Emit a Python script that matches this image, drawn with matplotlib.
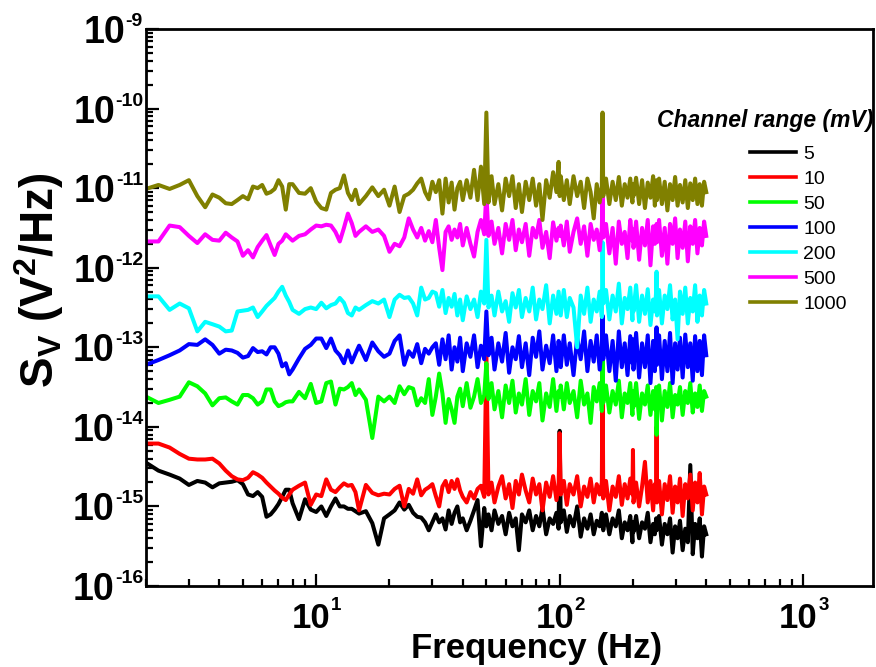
import numpy as np
import matplotlib
matplotlib.use('Agg')
import matplotlib.pyplot as plt
from matplotlib.ticker import LogLocator, NullFormatter
from matplotlib.lines import Line2D
from matplotlib.transforms import ScaledTranslation, blended_transform_factory

plt.rcParams['font.family'] = ['Liberation Sans', 'DejaVu Sans']
plt.rcParams['mathtext.fontset'] = 'custom'
plt.rcParams['mathtext.rm'] = 'Liberation Sans'
plt.rcParams['mathtext.bf'] = 'Liberation Sans:bold'
plt.rcParams['mathtext.it'] = 'Liberation Sans:italic'

# frequency grid (Hz)
freq = [
    2.0, 2.25, 2.5, 2.75, 3.0, 3.25, 3.5, 3.75, 4.0,
    4.25, 4.5, 4.75, 5.0, 5.25, 5.5, 5.75, 6.0, 6.25,
    6.5, 6.75, 7.0, 7.25, 7.5, 7.75, 8.0, 8.5, 9.0,
    9.5, 10, 10.5, 11, 11.5, 12, 12.5, 13, 13.5,
    14, 14.5, 15, 16, 17, 18, 19, 20, 21,
    22, 23, 24, 25, 26, 27, 28, 29, 30,
    31, 32, 33, 34, 35, 36, 37, 38, 39, 40, 41.5, 43, 44.5, 46, 47.5, 49,
    50, 51,
    52.5, 54, 56, 58, 60, 62, 64, 66, 68, 70,
    72.5, 75, 77.5, 80, 82.5, 85, 88, 91, 94, 97, 99,
    100, 101,
    104, 107, 110, 114, 118, 122, 126, 130, 134, 138, 142, 146, 149,
    150, 151,
    155, 160, 165, 170, 175, 180, 185, 190, 195, 199,
    200, 201,
    206, 212, 218, 224, 230, 236, 242, 246, 249,
    250, 251,
    256, 263, 270, 277, 284, 291, 298, 305, 312, 320, 328, 336, 344, 352, 360, 368, 376, 384, 392, 400,
]

# log10 of S_V (V^2/Hz), one list per channel range
logS_5 = [
    -14.45, -14.55, -14.60, -14.65, -14.73, -14.68, -14.70, -14.76, -14.71,
    -14.70, -14.69, -14.67, -14.72, -14.85, -14.87, -14.82, -14.88, -15.13,
    -15.10, -15.04, -14.97, -14.88, -14.79, -14.79, -14.96, -15.16, -14.91,
    -15.04, -15.07, -15.00, -15.12, -15.00, -14.90, -15.00, -15.00, -15.03,
    -15.03, -15.06, -15.09, -15.06, -15.21, -15.48, -15.15, -15.10, -15.05,
    -14.95, -15.04, -14.98, -15.08, -15.13, -15.14, -15.20, -15.30, -15.20,
    -15.10, -15.20, -15.15, -15.29, -15.05, -15.22, -15.08, -15.00, -15.20, -15.15, -15.30, -15.18, -15.05, -14.92, -15.50, -15.02,
    -15.25, -15.10,
    -15.30, -15.05, -15.22, -15.12, -15.35, -15.08, -15.25, -15.15, -15.55, -15.10,
    -15.20, -15.05, -15.30, -15.12, -15.25, -15.02, -15.35, -15.15, -15.22, -15.08, -15.28,
    -14.05, -15.20,
    -15.05, -15.32, -15.12, -15.25, -15.00, -15.38, -15.15, -15.28, -15.10, -15.35, -15.18, -15.25, -15.08,
    -15.20, -15.30,
    -15.10, -15.35, -15.15, -15.25, -15.05, -15.40, -15.20, -15.30, -15.12, -15.45,
    -15.20, -15.32,
    -15.12, -15.40, -15.20, -15.28, -15.08, -15.45, -15.22, -15.35, -15.15,
    -15.30, -15.20,
    -15.12, -15.48, -15.22, -15.35, -15.15, -15.58, -15.25, -15.40, -15.18, -15.55, -15.28, -15.45, -14.48, -15.60, -15.22, -15.40, -15.15, -15.63, -15.25, -15.35,
]

logS_10 = [
    -14.21, -14.21, -14.26, -14.34, -14.40, -14.41, -14.41, -14.40, -14.46,
    -14.55, -14.62, -14.66, -14.67, -14.64, -14.57, -14.60, -14.64, -14.70,
    -14.75, -14.80, -14.84, -14.89, -14.92, -14.85, -14.79, -14.74, -14.70,
    -14.98, -14.85, -14.87, -14.66, -14.79, -14.82, -14.76, -14.71, -14.74,
    -14.73, -14.82, -15.05, -14.73, -14.83, -14.86, -14.84, -14.85, -14.78,
    -14.74, -15.00, -14.78, -14.84, -14.66, -14.86, -14.79, -14.76, -14.72,
    -14.87, -15.00, -14.75, -14.68, -14.82, -14.68, -14.78, -14.66, -14.80, -14.88, -14.95, -14.82, -14.90, -14.78, -14.74, -14.88,
    -13.08, -14.85,
    -14.70, -14.95, -14.75, -14.62, -14.90, -14.72, -15.02, -14.68, -14.85, -14.60,
    -14.80, -14.95, -14.65, -14.85, -14.72, -15.05, -14.70, -14.88, -14.62, -14.92, -14.75,
    -14.08, -14.85,
    -14.68, -14.98, -14.72, -14.85, -14.62, -15.00, -14.75, -14.88, -14.65, -14.95, -14.72, -14.85, -14.70,
    -13.12, -14.90,
    -14.68, -15.05, -14.75, -14.88, -14.62, -14.98, -14.72, -14.90, -14.65, -14.85,
    -14.29, -14.95,
    -14.70, -15.00, -14.75, -14.44, -14.95, -14.68, -15.05, -14.72, -14.90,
    -14.00, -14.95,
    -14.68, -15.10, -14.72, -14.92, -14.62, -15.08, -14.75, -14.95, -14.65, -15.12, -14.72, -14.90, -14.60, -15.05, -14.70, -14.95, -14.58, -15.10, -14.75, -14.85,
]

logS_50 = [
    -13.62, -13.70, -13.66, -13.62, -13.44, -13.49, -13.58, -13.73, -13.64,
    -13.63, -13.68, -13.72, -13.60, -13.60, -13.64, -13.72, -13.68, -13.53,
    -13.53, -13.68, -13.74, -13.72, -13.69, -13.68, -13.68, -13.56, -13.64,
    -13.46, -13.70, -13.68, -13.45, -13.43, -13.72, -13.52, -13.53, -13.50,
    -13.45, -13.60, -13.53, -13.66, -14.14, -13.62, -13.68, -13.62, -13.70,
    -13.49, -13.59, -13.50, -13.52, -13.73, -13.64, -13.70, -13.40, -13.85,
    -13.62, -13.33, -13.58, -13.95, -13.65, -13.78, -13.95, -13.62, -13.52, -13.74, -13.45, -13.76, -13.62, -13.40, -13.70, -13.60,
    -13.20, -13.65,
    -13.45, -13.78, -13.55, -13.88, -13.48, -13.70, -13.42, -13.82, -13.58, -13.72,
    -13.40, -13.85, -13.55, -13.68, -13.45, -13.92, -13.58, -13.75, -13.40, -13.80, -13.55,
    -13.62, -13.48,
    -13.78, -13.45, -13.70, -13.55, -13.88, -13.42, -13.72, -13.58, -13.95, -13.50, -13.68, -13.45, -13.80,
    -13.15, -13.70,
    -13.48, -13.82, -13.55, -13.72, -13.42, -13.88, -13.58, -13.70, -13.45, -13.85,
    -13.55, -13.75,
    -13.45, -13.90, -13.58, -13.72, -13.48, -13.85, -13.55, -13.78, -13.50,
    -14.10, -13.65,
    -13.48, -13.92, -13.55, -13.75, -13.45, -13.88, -13.60, -13.72, -13.50, -13.85, -13.55, -13.70, -13.45, -13.82, -13.58, -13.75, -13.48, -13.80, -13.55, -13.62,
]

logS_100 = [
    -13.22, -13.16, -13.10, -13.04, -12.96, -12.97, -12.90, -12.97, -13.08,
    -13.03, -13.04, -13.07, -13.13, -13.11, -13.01, -13.06, -13.05, -13.09,
    -13.00, -13.00, -13.08, -13.24, -13.20, -13.34, -13.28, -13.14, -13.02,
    -12.97, -12.89, -12.89, -13.01, -12.89, -13.04, -13.10, -13.20, -13.04,
    -13.19, -13.08, -12.98, -13.16, -12.94, -13.05, -13.12, -13.08, -12.92,
    -12.85, -13.22, -13.05, -13.12, -12.96, -13.20, -13.02, -13.08, -13.00,
    -12.95, -13.22, -12.90, -13.15, -12.85, -13.28, -13.00, -13.18, -12.88, -13.30, -12.95, -13.12, -12.85, -13.25, -12.98, -13.15,
    -12.55, -13.10,
    -12.88, -13.28, -12.95, -13.18, -12.82, -13.32, -13.00, -13.15, -12.86, -13.25,
    -12.95, -13.35, -12.88, -13.12, -12.80, -13.28, -12.98, -13.20, -12.85, -13.30, -12.92,
    -13.05, -13.25,
    -12.85, -13.22, -12.95, -13.35, -12.88, -13.15, -12.80, -13.30, -12.92, -13.18, -12.85, -13.28, -13.00,
    -12.60, -13.15,
    -12.85, -13.30, -12.92, -13.42, -12.80, -13.25, -12.95, -13.35, -12.86, -13.20,
    -12.90, -13.28,
    -12.82, -13.38, -12.95, -13.25, -12.85, -13.45, -12.92, -13.30, -12.88,
    -12.75, -13.22,
    -12.85, -13.40, -12.92, -13.30, -12.82, -13.45, -12.95, -13.28, -12.88, -13.38, -12.84, -13.25, -12.95, -13.42, -12.86, -13.30, -12.92, -13.35, -12.85, -13.10,
]

logS_200 = [
    -12.36, -12.36, -12.53, -12.45, -12.51, -12.80, -12.68, -12.71, -12.74,
    -12.80, -12.79, -12.55, -12.54, -12.53, -12.50, -12.62, -12.55, -12.48,
    -12.43, -12.38, -12.30, -12.24, -12.35, -12.43, -12.53, -12.58, -12.52,
    -12.50, -12.52, -12.44, -12.51, -12.47, -12.45, -12.38, -12.44, -12.57,
    -12.60, -12.50, -12.53, -12.47, -12.42, -12.45, -12.40, -12.62, -12.40,
    -12.34, -12.38, -12.37, -12.45, -12.60, -12.25, -12.40, -12.38, -12.30,
    -12.32, -12.49, -12.28, -12.57, -12.38, -12.49, -12.33, -12.60, -12.40, -12.66, -12.36, -12.52, -12.40, -12.62, -12.30, -12.45,
    -11.65, -12.50,
    -12.35, -12.60, -12.30, -12.55, -12.42, -12.68, -12.32, -12.50, -12.28, -12.62,
    -12.38, -12.55, -12.25, -12.65, -12.40, -12.52, -12.22, -12.70, -12.35, -12.58, -12.30,
    -12.45, -12.60,
    -12.28, -12.62, -12.38, -12.50, -13.00, -12.35, -12.58, -12.25, -12.68, -12.40, -12.55, -12.30, -12.62,
    -11.68, -12.45,
    -12.28, -12.65, -12.35, -12.55, -12.20, -12.70, -12.38, -12.52, -12.25, -12.66,
    -12.40, -12.55,
    -12.22, -12.68, -12.35, -12.58, -12.27, -12.72, -12.40, -12.55, -12.30,
    -12.05, -12.60,
    -12.28, -12.70, -12.35, -12.52, -12.22, -12.65, -12.40, -12.90, -12.30, -12.58, -12.25, -12.70, -12.38, -12.55, -12.22, -12.68, -12.35, -12.60, -12.28, -12.45,
]

logS_500 = [
    -11.67, -11.67, -11.47, -11.49, -11.60, -11.69, -11.58, -11.65, -11.66,
    -11.56, -11.62, -11.67, -11.85, -11.78, -11.87, -11.74, -11.66, -11.59,
    -11.72, -11.84, -11.70, -11.66, -11.58, -11.62, -11.66, -11.60, -11.58,
    -11.52, -11.47, -11.48, -11.46, -11.47, -11.55, -11.67, -11.50, -11.32,
    -11.44, -11.60, -11.55, -11.48, -11.55, -11.52, -11.60, -11.80, -11.70,
    -11.73, -11.62, -11.38, -11.52, -11.62, -11.50, -11.66, -11.54, -11.68,
    -11.40, -11.75, -12.03, -11.55, -11.48, -11.65, -11.52, -11.62, -11.45, -11.72, -11.50, -11.70, -11.86, -11.55, -11.40, -11.58,
    -11.05, -11.60,
    -11.42, -11.70, -11.50, -11.82, -11.45, -11.65, -11.40, -11.78, -11.52, -11.68,
    -11.45, -11.85, -11.50, -11.62, -11.40, -11.75, -11.55, -11.88, -11.43, -11.66, -11.50,
    -11.60, -11.47,
    -11.72, -11.42, -11.80, -11.55, -11.38, -11.70, -11.48, -11.85, -11.45, -11.65, -11.52, -11.78, -11.50,
    -11.10, -11.62,
    -11.45, -11.82, -11.50, -11.95, -11.42, -11.70, -11.55, -11.88, -11.40, -11.66,
    -11.52, -11.75,
    -11.42, -11.90, -11.50, -11.72, -11.40, -11.97, -11.48, -11.70, -11.55,
    -11.45, -11.68,
    -11.40, -11.85, -11.50, -11.95, -11.45, -11.70, -11.38, -11.88, -11.52, -11.75, -11.42, -11.92, -11.48, -11.70, -11.40, -11.82, -11.50, -11.72, -11.42, -11.60,
]

logS_1000 = [
    -11.01, -10.96, -11.01, -10.96, -10.90, -11.10, -11.24, -11.08, -11.12,
    -11.19, -11.20, -11.15, -11.10, -11.14, -10.98, -11.00, -10.96, -11.07,
    -11.05, -11.01, -10.90, -10.98, -11.27, -10.95, -10.95, -11.06, -11.07,
    -11.00, -11.17, -11.25, -11.27, -11.06, -11.02, -11.00, -10.84, -11.06,
    -11.15, -11.02, -11.20, -11.10, -10.99, -11.10, -11.02, -11.22, -10.98,
    -11.30, -11.10, -11.07, -11.02, -10.94, -10.88, -11.05, -11.14, -10.92,
    -11.05, -10.90, -11.32, -10.88, -11.18, -10.93, -11.27, -11.00, -10.92, -11.15, -10.90, -11.12, -10.77, -11.15, -10.73, -11.20,
    -10.05, -11.18,
    -10.85, -11.20, -10.95, -11.28, -10.88, -11.10, -10.85, -11.25, -10.95, -11.30,
    -10.92, -11.15, -10.88, -11.22, -10.95, -11.40, -10.90, -11.12, -10.80, -11.05, -10.67,
    -11.10, -10.85,
    -11.15, -10.90, -11.20, -10.85, -11.10, -10.92, -11.25, -10.88, -11.05, -11.38, -10.95, -11.18, -10.98,
    -10.05, -11.10,
    -10.88, -11.20, -10.92, -11.15, -10.86, -11.22, -10.95, -11.12, -10.88, -11.18,
    -10.95, -11.10,
    -10.87, -11.20, -10.90, -11.25, -10.93, -11.12, -10.85, -11.22, -10.98,
    -10.90, -11.15,
    -10.88, -11.20, -10.92, -11.28, -10.95, -11.15, -10.86, -11.22, -10.96, -11.18, -10.90, -11.25, -10.94, -11.15, -10.88, -11.20, -10.95, -11.22, -10.92, -11.05,
]

range_labels = ['5', '10', '50', '100', '200', '500', '1000']
series = [logS_5, logS_10, logS_50, logS_100, logS_200, logS_500, logS_1000]
colors = ['#000000', '#ff0000', '#00ff00', '#0000ff', '#00ffff', '#ff00ff', '#808000']

ytick_exp = [-16, -15, -14, -13, -12, -11, -10, -9]
xtick_exp = [1, 2, 3]

fig = plt.figure(figsize=(8.76, 6.67), dpi=100)
ax = fig.add_axes([146/876, 1 - 586/667, 727/876, 557/667])
px = 1.0 / fig.dpi

f = np.array(freq)
for vals, col in zip(series, colors):
    ax.plot(f, 10.0 ** np.array(vals), color=col, lw=2.9)

ax.set_xscale('log')
ax.set_yscale('log')
ax.set_xlim(2, 1936)
ax.set_ylim(1e-16, 1e-9)

ax.set_yticks([10.0 ** e for e in ytick_exp])
ax.set_xticks([10.0 ** e for e in xtick_exp])
ax.yaxis.set_minor_locator(LogLocator(base=10, subs=np.arange(2, 10), numticks=20))
ax.xaxis.set_minor_locator(LogLocator(base=10, subs=np.arange(2, 10), numticks=20))
ax.yaxis.set_minor_formatter(NullFormatter())
ax.xaxis.set_minor_formatter(NullFormatter())
ax.tick_params(which='both', direction='in', top=False, right=False, width=1.6,
               labelleft=False, labelbottom=False)
ax.tick_params(which='major', length=9)
ax.tick_params(which='minor', length=5)
for sp in ax.spines.values():
    sp.set_linewidth(2.0)

# tick labels drawn as "10" plus a small raised exponent
ytrans = blended_transform_factory(ax.transAxes, ax.transData)
for e in ytick_exp:
    sup = ax.text(0, 10.0 ** e, '%d' % e, fontsize=14, fontweight='bold',
                  ha='right', va='baseline',
                  transform=ytrans + ScaledTranslation(-3 * px, 3 * px, fig.dpi_scale_trans))
    ax.annotate('10', xy=(0, 0), xycoords=sup, xytext=(0, -13 * 0.72),
                textcoords='offset points', ha='right', va='baseline',
                fontsize=27, fontweight='bold')

xtrans = blended_transform_factory(ax.transData, ax.transAxes)
for e in xtick_exp:
    base = ax.text(10.0 ** e, 0, '10', fontsize=25, fontweight='bold',
                   ha='center', va='baseline',
                   transform=xtrans + ScaledTranslation(-5 * px, -42 * px, fig.dpi_scale_trans))
    ax.annotate('%d' % e, xy=(1, 1), xycoords=base, xytext=(0.5, 5 * 0.72),
                textcoords='offset points', ha='left', va='top',
                fontsize=13.5, fontweight='bold')

ax.set_xlabel('Frequency (Hz)', fontsize=25, fontweight='bold')
ax.xaxis.set_label_coords((537 - 146) / 727, -(632 - 586) / 557)
ax.set_ylabel(r'$\mathbf{S_V\ (V^2/Hz)}$', fontsize=33)
ax.yaxis.set_label_coords(-(146 - 66) / 727, (586 - 280) / 557)

fig.text(657/876, 1 - 121/667, 'Channel range (mV)', fontsize=16.5,
         fontweight='bold', fontstyle='italic', ha='left', va='center')
handles = [Line2D([], [], color=c, lw=2.6) for c in colors]
ax.legend(handles, range_labels, loc='upper left',
          bbox_to_anchor=(750/876, 1 - 145/667), bbox_transform=fig.transFigure,
          frameon=False, fontsize=14, handlelength=2.35, handletextpad=0.4,
          labelspacing=0.38, borderpad=0, borderaxespad=0)

fig.savefig('out.png', dpi=100)
